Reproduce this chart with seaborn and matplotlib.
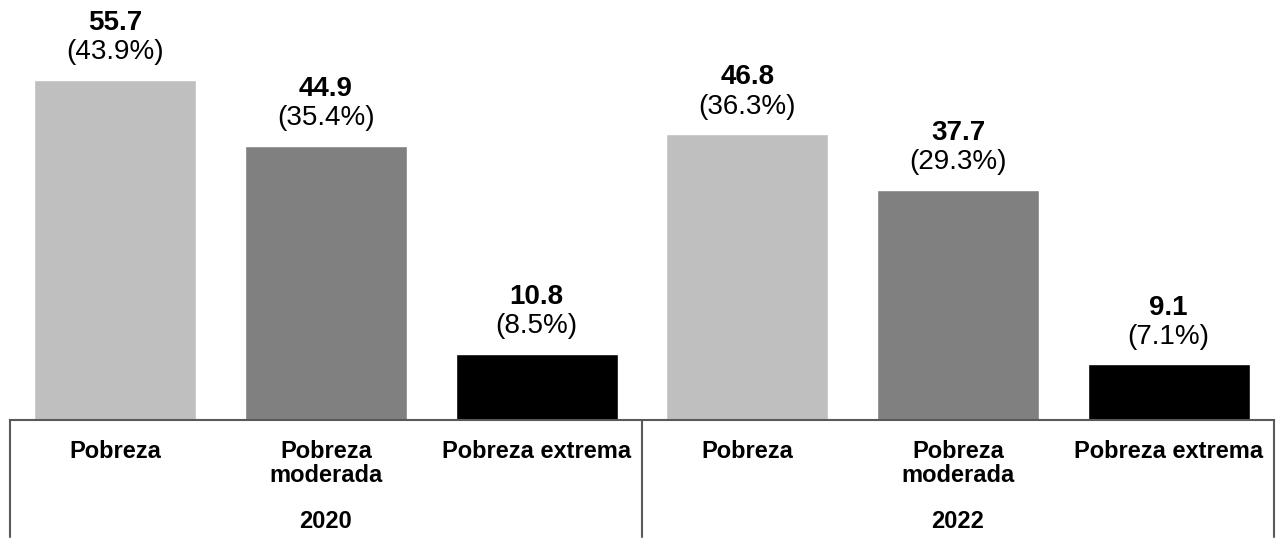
import matplotlib

matplotlib.use("Agg")
import matplotlib.pyplot as plt
import matplotlib.transforms as mtransforms
import pandas as pd
import seaborn as sns

# Data (millions of people, share of population)
years = ["2020", "2022"]
categories = ["Pobreza", "Pobreza\nmoderada", "Pobreza extrema"]
values_2020 = [55.7, 44.9, 10.8]
values_2022 = [46.8, 37.7, 9.1]
shares_2020 = ["(43.9%)", "(35.4%)", "(8.5%)"]
shares_2022 = ["(36.3%)", "(29.3%)", "(7.1%)"]
bar_colors = ["#BFBFBF", "#808080", "#000000"]

rows = []
for year, vals, shares in [(years[0], values_2020, shares_2020), (years[1], values_2022, shares_2022)]:
    for cat, val, share, color in zip(categories, vals, shares, bar_colors):
        rows.append({"key": f"{year} {cat}", "year": year, "cat": cat, "value": val, "share": share, "color": color})
df = pd.DataFrame(rows)

sns.set_style("white")
plt.rcParams["font.family"] = ["Liberation Sans", "DejaVu Sans"]
plt.rcParams["text.color"] = "black"

fig = plt.figure(figsize=(12.82, 5.45), dpi=100)
ax = fig.add_axes([10 / 1282, 125 / 545, 1264 / 1282, 420 / 545])

sns.barplot(
    data=df,
    x="key",
    y="value",
    hue="key",
    palette=dict(zip(df["key"], df["color"])),
    width=0.77,
    legend=False,
    ax=ax,
    saturation=1,
)

ax.set_xlim(-0.5, len(df) - 0.5)
ax.set_ylim(0, 68.8)
ax.set_xticks([])
ax.set_yticks([])
ax.set_xlabel("")
ax.set_ylabel("")
for side in ["left", "right", "top"]:
    ax.spines[side].set_visible(False)
ax.spines["bottom"].set_color("#595959")
ax.spines["bottom"].set_linewidth(1.5)

# value labels above bars
for i, row in df.iterrows():
    ax.annotate(f"{row['value']:.1f}", (i, row["value"]), xytext=(0, 41), textcoords="offset points",
                ha="center", va="center", fontsize=20, fontweight="bold", color="black")
    ax.annotate(row["share"], (i, row["value"]), xytext=(0, 20), textcoords="offset points",
                ha="center", va="center", fontsize=20, color="black")

# category labels and year groups below the axis
trans = mtransforms.blended_transform_factory(ax.transData, ax.transAxes)
for i, row in df.iterrows():
    ax.text(i, -20 / 420, row["cat"], transform=trans, ha="center", va="top",
            fontsize=17, fontweight="bold", linespacing=1.05, color="black")
for g, year in enumerate(years):
    ax.text(g * 3 + 1, -101 / 420, year, transform=trans, ha="center", va="center",
            fontsize=17, fontweight="bold", color="black")

# group separators
line_bottom = -117 / 420
for xpos in [-0.5, 2.5, 5.5]:
    ax.plot([xpos, xpos], [0, line_bottom], transform=trans, color="#595959", lw=1.5, clip_on=False)

fig.savefig("out.png", dpi=100)
